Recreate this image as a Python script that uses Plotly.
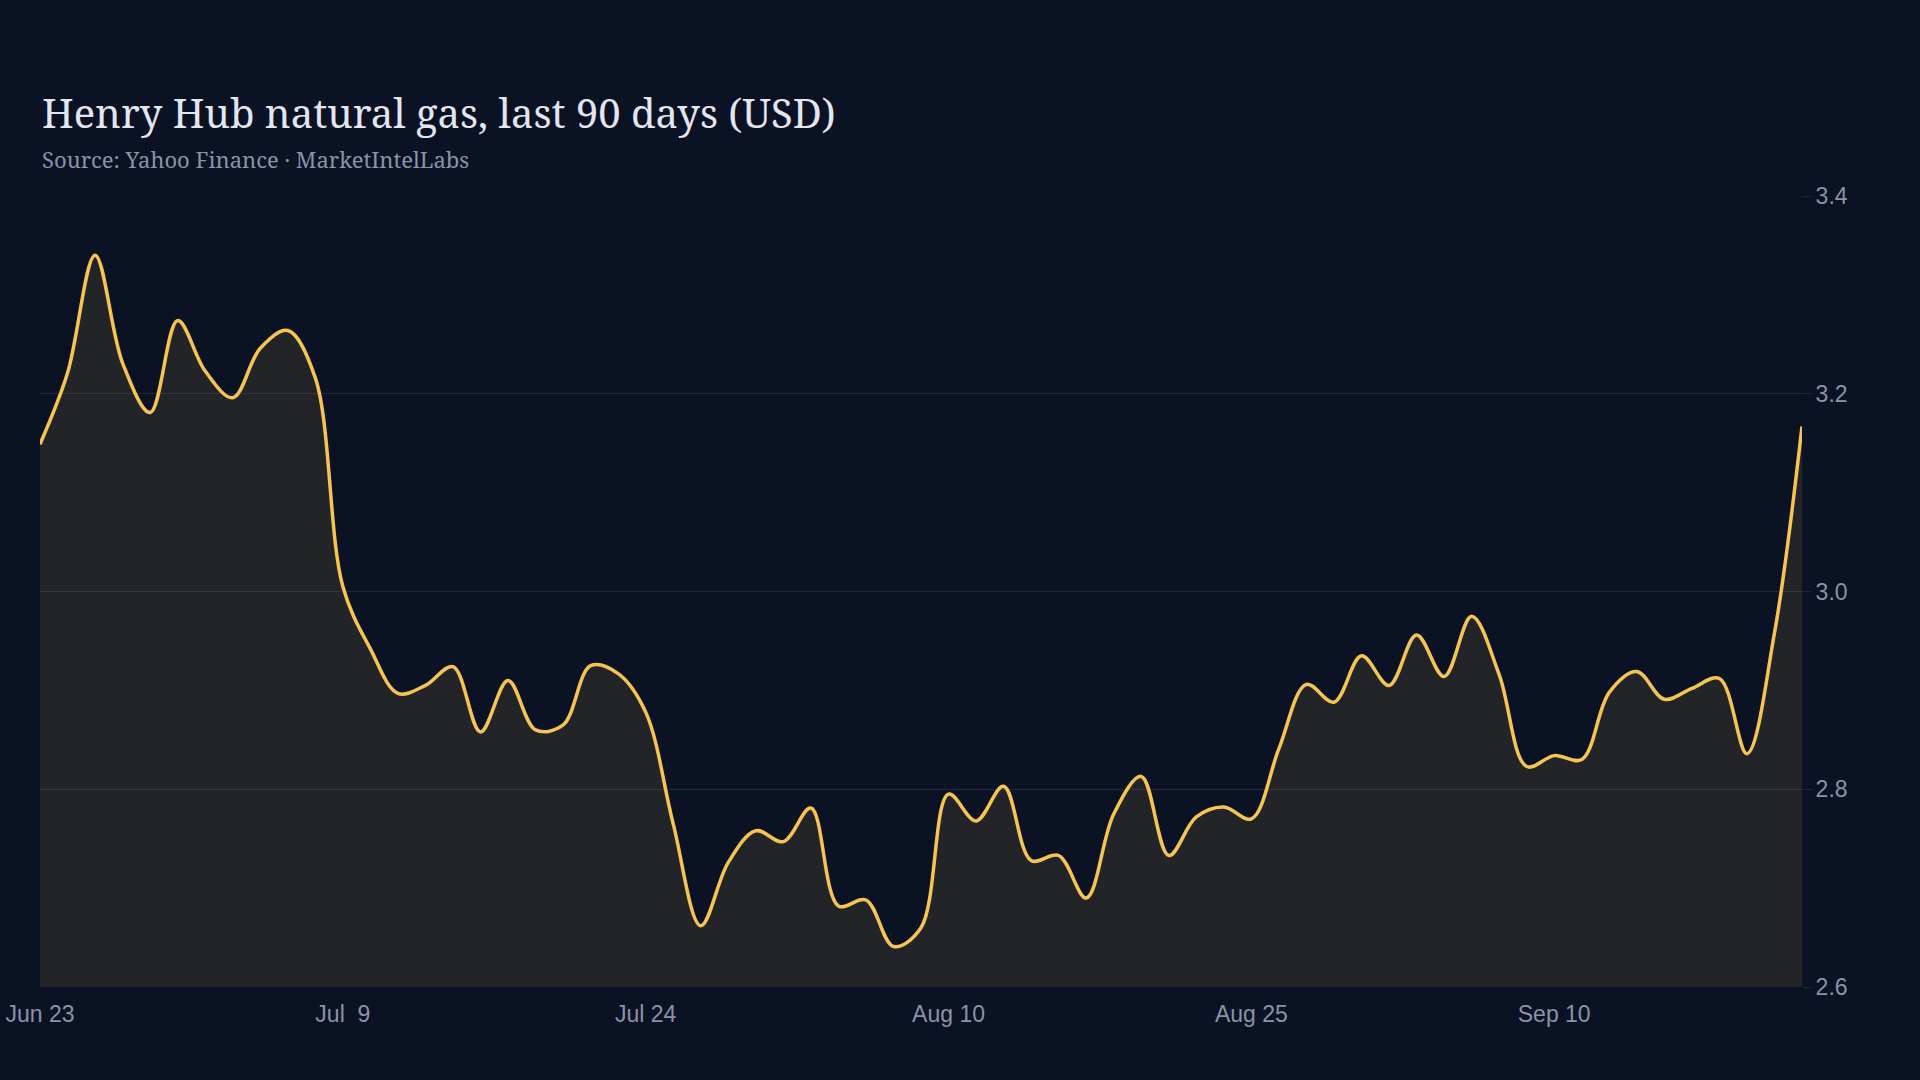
import plotly.graph_objects as go

# Henry Hub front-month close, one value per trading day
prices = [
    3.149, 3.221, 3.340, 3.231, 3.181, 3.274, 3.223, 3.196, 3.246, 3.264,
    3.216, 3.005, 2.942, 2.897, 2.905, 2.924, 2.858, 2.910, 2.860, 2.865,
    2.925, 2.917, 2.878, 2.765, 2.662, 2.726, 2.758, 2.747, 2.781, 2.682,
    2.688, 2.641, 2.660, 2.795, 2.768, 2.803, 2.728, 2.733, 2.690, 2.775,
    2.813, 2.733, 2.772, 2.782, 2.770, 2.841, 2.906, 2.888, 2.935, 2.905,
    2.956, 2.914, 2.975, 2.916, 2.823, 2.834, 2.830, 2.898, 2.919, 2.891,
    2.902, 2.912, 2.836, 2.958, 3.167,
]
tick_labels = ["Jun 23", "Jul  9", "Jul 24", "Aug 10", "Aug 25", "Sep 10"]
y_ticks = [2.6, 2.8, 3.0, 3.2, 3.4]

days = list(range(len(prices)))
tick_step = 11

BG = "#0b1224"
GRID = "#1f2937"
MUTED = "#8a93a8"

fig = go.Figure()
fig.add_trace(go.Scatter(
    x=days, y=prices, mode="lines",
    line=dict(color="#f5c451", width=3.5, shape="spline"),
    fill="tozeroy", fillcolor="rgba(245,196,81,0.10)",
    hoverinfo="skip",
))

fig.add_annotation(
    text="Henry Hub natural gas, last 90 days (USD)",
    xref="paper", yref="paper", x=0, y=1.1055,
    xanchor="left", yanchor="middle", showarrow=False,
    font=dict(family="Noto Serif, DejaVu Serif, serif", size=40, color="#e1e6f2"),
)
fig.add_annotation(
    text="Source: Yahoo Finance · MarketIntelLabs",
    xref="paper", yref="paper", x=0, y=1.047,
    xanchor="left", yanchor="middle", showarrow=False,
    font=dict(family="Noto Serif, DejaVu Serif, serif", size=22, color=MUTED),
)

fig.update_layout(
    width=1920, height=1080,
    paper_bgcolor=BG, plot_bgcolor=BG,
    margin=dict(l=40, r=118, t=196, b=93),
    showlegend=False,
    font=dict(family="Liberation Sans, Arial, sans-serif", size=23, color=MUTED),
)
fig.update_xaxes(
    range=[0, len(prices) - 1],
    tickvals=days[::tick_step], ticktext=tick_labels,
    showgrid=False, zeroline=False, showline=False, ticks="",
    ticklabelstandoff=11, automargin=False,
)
fig.update_yaxes(
    range=[2.6, 3.4], side="right",
    tickvals=y_ticks, tickformat=".1f",
    showgrid=True, gridcolor=GRID, gridwidth=1,
    ticks="outside", ticklen=8, tickcolor=GRID,
    zeroline=False, showline=False, automargin=False,
)

# drop the default page margin so the chart fills the window
fig.write_html("out.html", config={"displayModeBar": False},
               post_script="document.body.style.margin='0';")
